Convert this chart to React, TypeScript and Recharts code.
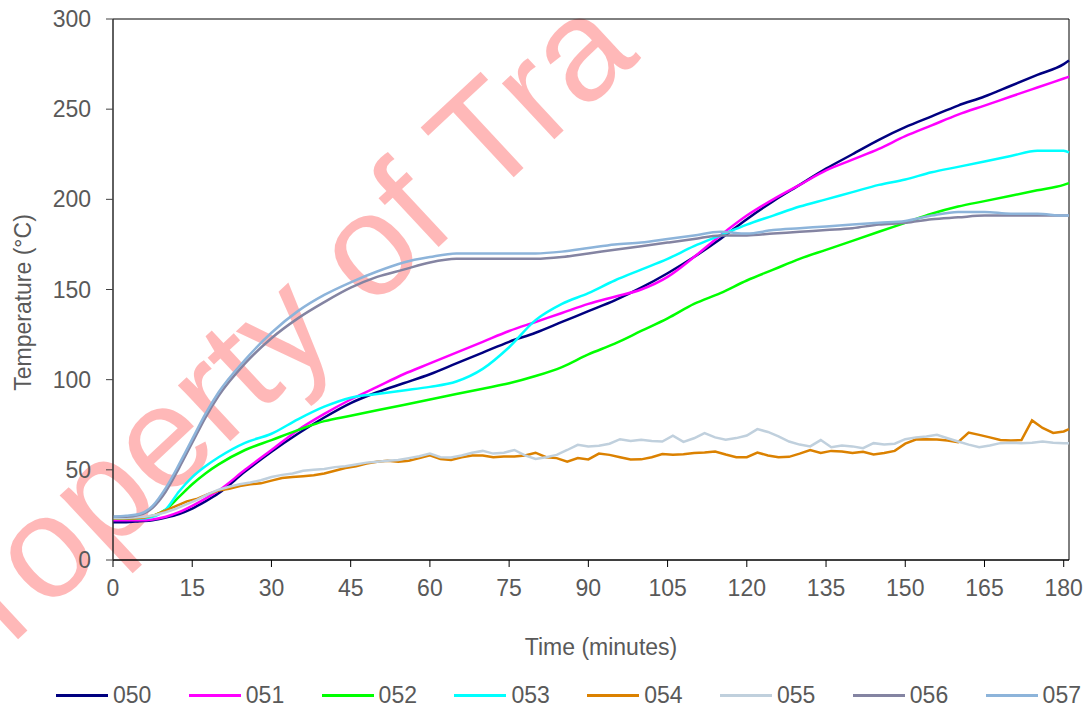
import React from "react";
import {
	LineChart,
	Line,
	XAxis,
	YAxis,
	Legend,
	ReferenceArea,
	Customized,
} from "recharts";

// minutes for the smooth thermocouple traces
const minutes = [
	0, 2.5, 5, 7.5, 10, 12.5, 15, 17.5, 20, 25, 30, 35, 40, 45, 50, 55, 60, 65,
	70, 75, 80, 85, 90, 95, 100, 105, 110, 115, 120, 125, 130, 135, 140, 145, 150,
	155, 160, 165, 170, 175, 180, 181,
];

const s050 = [
	21, 21, 21.5, 22, 23.5, 25.5, 28.5, 32.5, 37, 49, 60, 70, 79, 87, 93, 98, 103,
	109, 115, 121, 126, 132, 138, 144, 151, 159, 168, 178, 189, 199, 208, 217,
	225, 233, 240, 246, 252, 257, 263, 269, 275, 277,
];
const s051 = [
	22, 22, 22, 22.5, 24, 26.5, 30, 34, 38.5, 50, 61, 72, 81, 89, 96, 103, 109,
	115, 121, 127, 132, 137, 142, 146, 150, 157, 168, 180, 191, 200, 208, 216,
	222, 228, 235, 241, 247, 252, 257, 262, 267, 268,
];
const s052 = [
	23, 23, 23.2, 24.5, 28, 35, 42, 48, 53, 61, 66.5, 72, 77, 80, 83, 86, 89, 92,
	95, 98, 102, 107, 114, 120, 127, 134, 142, 148, 155, 161, 167, 172, 177, 182,
	187, 192, 196, 199, 202, 205, 208, 209,
];
const s053 = [
	23, 23, 23, 24, 28, 38, 46, 52, 57, 65, 70, 78, 85, 90, 92, 94, 96, 99, 106,
	118, 133, 142, 148, 155, 161, 167, 174, 180, 186, 191, 196, 200, 204, 208,
	211, 215, 218, 221, 224, 227, 227, 226,
];
const s056 = [
	24, 24, 25, 29, 38, 51, 65, 79, 91, 109, 123, 134, 143, 151, 157, 161, 165,
	167, 167, 167, 167, 168, 170, 172, 174, 176, 178, 180, 180, 181, 182, 183,
	184, 186, 187, 189, 190, 191, 191, 191, 191, 191,
];
const s057 = [
	24, 24.5, 25.5, 30, 40, 53, 67, 81, 93, 111, 126, 138, 147, 154, 160, 165,
	168, 170, 170, 170, 170, 171, 173, 175, 176, 178, 180, 182, 181, 183, 184,
	185, 186, 187, 188, 191, 193, 193, 192, 192, 191, 191,
];

// the two noisy traces were logged more densely
const minutesFine = [
	0, 2, 4, 6, 8, 10, 12, 14, 16, 18, 20, 22, 24, 26, 28, 30, 32, 34, 36, 38, 40,
	42, 44, 46, 48, 50, 52, 54, 56, 58, 60, 62, 64, 66, 68, 70, 72, 74, 76, 78,
	80, 82, 84, 86, 88, 90, 92, 94, 96, 98, 100, 102, 104, 106, 108, 110, 112,
	114, 116, 118, 120, 122, 124, 126, 128, 130, 132, 134, 136, 138, 140, 142,
	144, 146, 148, 150, 152, 154, 156, 158, 160, 162, 164, 166, 168, 170, 172,
	174, 176, 178, 180, 181,
];

const s054 = [
	23, 23, 23, 23.5, 25, 27.5, 30, 32.5, 34, 36.5, 38.5, 39.5, 41, 42, 42.5, 44,
	45.5, 46, 46.5, 47, 48, 49.5, 51, 52, 53.5, 54.5, 55, 54.5, 55, 56.5, 58, 56,
	55.5, 57, 58, 58, 57, 57.4, 57.4, 58, 59.5, 57, 56.5, 54.5, 56.5, 55.8, 59,
	58.3, 57, 55.7, 55.8, 57, 58.8, 58.3, 58.6, 59.3, 59.6, 60.2, 58.5, 57, 57,
	59.6, 58, 57, 57.2, 59, 61, 59.3, 60.5, 60.2, 59.3, 60, 58.5, 59.3, 60.5,
	64.5, 66.8, 67, 66.8, 66.3, 65.3, 70.7, 69.4, 68, 66.5, 66.3, 66.5, 77.4,
	73.2, 70.5, 71.3, 72.6,
];
const s055 = [
	23.3, 23.3, 23.5, 24, 25, 26.5, 28.5, 31, 33.5, 36.5, 39, 40.6, 42, 43, 44.2,
	46, 47.2, 48, 49.5, 50, 50.5, 51.5, 52, 53, 54, 54.5, 55, 55.5, 56.5, 57.5,
	59, 57, 56.8, 58, 59.5, 60.5, 59, 59.5, 61, 58, 56, 57, 58.3, 61, 63.9, 63,
	63.3, 64.5, 67, 66, 66.7, 66, 65.7, 68.9, 65.5, 67.5, 70.4, 68, 66.7, 67.6,
	69, 72.6, 71, 68.5, 65.7, 64, 63, 66.5, 62.5, 63.5, 63, 62, 64.8, 64, 64.5,
	67, 68, 68.5, 69.4, 67.5, 65.7, 64, 62.5, 63.5, 64.8, 65, 64.8, 65, 65.7, 65,
	64.8, 64.8,
];

const timeTicks = [0, 15, 30, 45, 60, 75, 90, 105, 120, 135, 150, 165, 180];
const tempTicks = [0, 50, 100, 150, 200, 250, 300];

const series = [
	{ name: "050", t: minutes, v: s050, color: "#000080", type: "monotone" },
	{ name: "051", t: minutes, v: s051, color: "#ff00ff", type: "monotone" },
	{ name: "052", t: minutes, v: s052, color: "#00ff00", type: "monotone" },
	{ name: "053", t: minutes, v: s053, color: "#00ffff", type: "monotone" },
	{ name: "054", t: minutesFine, v: s054, color: "#db8100", type: "linear" },
	{ name: "055", t: minutesFine, v: s055, color: "#c0d0dd", type: "linear" },
	{ name: "056", t: minutes, v: s056, color: "#8484a2", type: "monotone" },
	{ name: "057", t: minutes, v: s057, color: "#8db4da", type: "monotone" },
];

const FONT = '"Liberation Sans", Arial, sans-serif';
const GREY = "#595959";

const toRows = (t: number[], v: number[]) => t.map((m, i) => ({ t: m, v: v[i] }));

const LegendRow = () => (
	<div style={{ position: "relative", height: 30, width: 1090, fontFamily: FONT }}>
		{series.map((s, i) => (
			<div
				key={s.name}
				style={{
					position: "absolute",
					left: 56 + i * 132.8,
					top: 0,
					height: 30,
					display: "flex",
					alignItems: "center",
				}}
			>
				<span style={{ display: "inline-block", width: 52, height: 3, background: s.color }} />
				<span style={{ marginLeft: 5, fontSize: 23, color: GREY }}>{s.name}</span>
			</div>
		))}
	</div>
);

const Watermark = () => (
	<text
		x={-60}
		y={712}
		transform="rotate(-43 -60 712)"
		fontFamily={FONT}
		fontSize={145}
		fill="#ff0000"
		fillOpacity={0.28}
	>
		Property of Tra
	</text>
);

export default function App() {
	return (
		<div style={{ position: "absolute", left: 0, top: 0 }}>
			<LineChart width={1090} height={710} margin={{ top: 19, right: 21, bottom: 0, left: 0 }}>
				<XAxis
					type="number"
					dataKey="t"
					domain={[0, 181]}
					ticks={timeTicks}
					interval={0}
					tickSize={7}
					tickMargin={13}
					height={120}
					stroke="#000"
					tick={{ fill: GREY, fontSize: 23, fontFamily: FONT }}
					label={{
						content: (p: any) => (
							<text
								x={p.viewBox.x + p.viewBox.width / 2 + 10}
								y={p.viewBox.y + 87}
								textAnchor="middle"
								dominantBaseline="central"
								fill={GREY}
								fontSize={23}
								fontFamily={FONT}
							>
								Time (minutes)
							</text>
						),
					}}
				/>
				<YAxis
					type="number"
					domain={[0, 300]}
					ticks={tempTicks}
					interval={0}
					width={113}
					tickSize={7}
					tickMargin={15}
					stroke="#404040"
					tick={{ fill: GREY, fontSize: 23, fontFamily: FONT }}
					label={{
						content: (p: any) => (
							<text
								x={23}
								y={p.viewBox.y + p.viewBox.height / 2 + 13}
								transform={`rotate(-90 23 ${p.viewBox.y + p.viewBox.height / 2 + 13})`}
								textAnchor="middle"
								dominantBaseline="central"
								fill={GREY}
								fontSize={23}
								fontFamily={FONT}
							>
								Temperature (°C)
							</text>
						),
					}}
				/>
				<ReferenceArea x1={0} x2={181} y1={0} y2={300} fill="none" stroke="#000" strokeWidth={1} ifOverflow="visible" />
				{series.map((s) => (
					<Line
						key={s.name}
						data={toRows(s.t, s.v)}
						dataKey="v"
						name={s.name}
						type={s.type as any}
						stroke={s.color}
						strokeWidth={2.5}
						dot={false}
						activeDot={false}
						isAnimationActive={false}
					/>
				))}
				<Legend verticalAlign="bottom" content={() => <LegendRow />} />
				<Customized component={Watermark} />
			</LineChart>
		</div>
	);
}
